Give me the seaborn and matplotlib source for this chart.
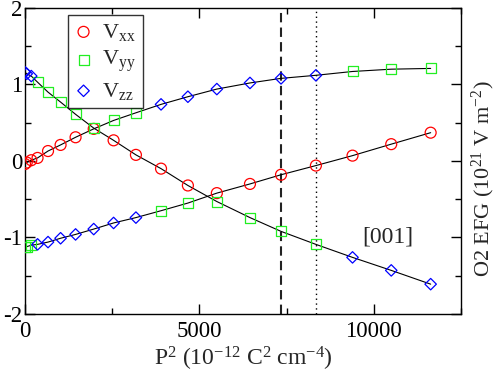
import numpy as np
import seaborn as sns
import matplotlib
matplotlib.use("Agg")
import matplotlib.pyplot as plt
from matplotlib.ticker import MultipleLocator

sns.set_theme(style="ticks")
plt.rcParams['font.family'] = ['Liberation Serif', 'DejaVu Serif']
plt.rcParams['mathtext.fontset'] = 'custom'
plt.rcParams['mathtext.rm'] = 'Liberation Serif'
plt.rcParams['mathtext.it'] = 'Liberation Serif:italic'
plt.rcParams['mathtext.default'] = 'rm'
plt.rcParams['axes.unicode_minus'] = False

# P^2 values (10^-12 C^2 cm^-4)
p2 = [0, 50, 180, 360, 660, 1020, 1450, 1970, 2540, 3180, 3900, 4670,
      5500, 6450, 7340, 8340, 9390, 10500, 11630]
# the three eigenvalue branches (10^21 V m^-2)
upper = [-0.04, -0.02, 0.01, 0.04, 0.13, 0.21, 0.31, 0.42, 0.53, 0.63, 0.74,
         0.84, 0.94, 1.02, 1.08, 1.12, 1.17, 1.20, 1.21]
falling = [1.16, 1.14, 1.11, 1.03, 0.90, 0.77, 0.61, 0.43, 0.27, 0.08, -0.10,
           -0.32, -0.53, -0.74, -0.92, -1.09, -1.26, -1.43, -1.61]
lower = [-1.12, -1.12, -1.10, -1.09, -1.06, -1.01, -0.96, -0.89, -0.81, -0.74,
         -0.65, -0.55, -0.42, -0.30, -0.18, -0.06, 0.07, 0.22, 0.37]
dashed_p2 = 7340
dotted_p2 = 8340

# Vxx, Vyy, Vzz ordered by magnitude |Vxx| <= |Vyy| <= |Vzz|
branches = np.array([upper, falling, lower])
order = np.argsort(np.abs(branches), axis=0)
vxx = np.take_along_axis(branches, order[0:1], axis=0)[0]
vyy = np.take_along_axis(branches, order[1:2], axis=0)[0]
vzz = np.take_along_axis(branches, order[2:3], axis=0)[0]

fig = plt.figure(figsize=(4.98, 3.73), dpi=100)
ax = fig.add_axes([0.0502, 0.1582, 0.8755, 0.8204])

for br in (upper, falling, lower):
    sns.lineplot(x=p2, y=br, color='black', lw=0.8, estimator=None, ax=ax,
                 legend=False, zorder=2)

ax.axvline(dashed_p2, color='#222222', lw=1.5, ls=(0, (4.5, 2.5)), zorder=1)
ax.axvline(dotted_p2, color='black', lw=1.0, ls=(0, (1, 2.5)), zorder=1)

series = [(vxx, 'o', 'red', r'V$_{xx}$', 62),
          (vyy, 's', '#22ee22', r'V$_{yy}$', 52),
          (vzz, 'D', 'blue', r'V$_{zz}$', 34)]
for vals, mk, col, lab, size in series:
    sns.scatterplot(x=p2, y=vals, marker=mk, s=size, facecolors='none',
                    edgecolor=col, linewidth=0.9, label=lab, ax=ax, zorder=3)

ax.set_xlim(0, 12500)
ax.set_ylim(-2, 2)
ax.xaxis.set_major_locator(MultipleLocator(5000))
ax.xaxis.set_minor_locator(MultipleLocator(2500))
ax.yaxis.set_major_locator(MultipleLocator(1))
ax.yaxis.set_minor_locator(MultipleLocator(0.5))
ax.tick_params(which='both', direction='in', top=True, right=True,
               labelsize=16.5, width=1, colors='black')
ax.tick_params(which='major', length=7)
ax.tick_params(which='minor', length=4)
ax.tick_params(axis='x', which='major', pad=5)
ax.tick_params(axis='y', which='major', pad=2)
for sp in ax.spines.values():
    sp.set_color('black')
    sp.set_linewidth(1)

ax.set_xlabel(r'P$^{2}$ (10$^{-12}$ C$^{2}$ cm$^{-4}$)', fontsize=17, labelpad=2)
ax.yaxis.set_label_position('right')
ax.set_ylabel(r'O2 EFG (10$^{21}$ V m$^{-2}$)', fontsize=16)
ax.yaxis.label.set_ha('center')
ax.yaxis.label.set_va('center')
ax.yaxis.set_label_coords(1.052, 0.441)

ax.text(10400, -0.99, '[001]', fontsize=17, ha='center', va='center')

leg = ax.legend(loc='upper left', bbox_to_anchor=(0.0986, 0.977),
                borderaxespad=0, fontsize=16, frameon=True, fancybox=False,
                handletextpad=0.45, labelspacing=0.28, borderpad=0.3,
                handlelength=0.8)
leg.get_frame().set_edgecolor('black')
leg.get_frame().set_linewidth(1)

fig.savefig('out.png', dpi=100)
